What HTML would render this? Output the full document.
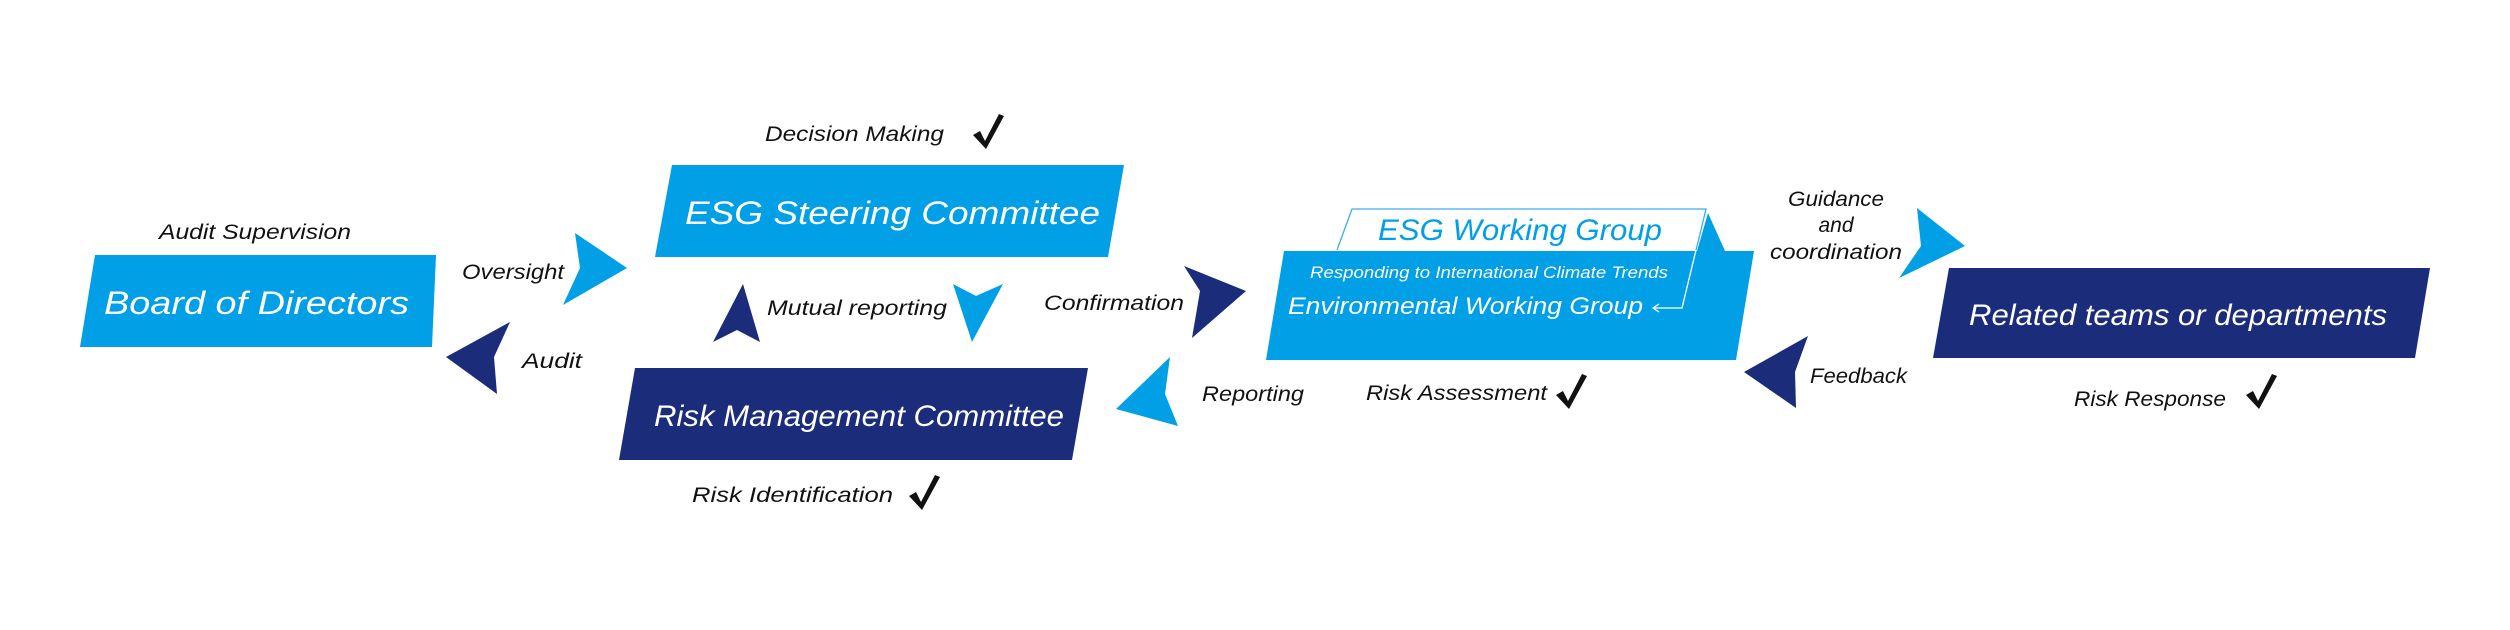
<!DOCTYPE html>
<html><head><meta charset="utf-8"><style>
html,body{margin:0;padding:0;background:#fff;}
svg{display:block;}
text{font-family:"Liberation Sans",sans-serif;font-style:italic;}
.l{font-size:21px;fill:#111;}
.b{font-size:32px;fill:#fff;}
</style></head><body>
<svg width="2510" height="630" viewBox="0 0 2510 630" xmlns="http://www.w3.org/2000/svg">
<defs>
<path id="ck" d="M0 13 L7 9 L12 19 L26 -8 L31 -6 L13 27 Z" fill="#111"/>
</defs>
<polygon points="95,255 436,255 432,347 80,347" fill="#009fe6"/>
<polygon points="672,165 1124,165 1108,257 655,257" fill="#009fe6"/>
<polygon points="635,368 1088,368 1072,460 619,460" fill="#1b2c7a"/>
<polygon points="1284,251 1754,251 1736,360 1266,360" fill="#009fe6"/>
<polygon points="1949,268 2430,268 2415,358 1933,358" fill="#1b2c7a"/>
<polygon points="1352,209 1706,209 1697,250 1337,250" fill="#fff"/>
<polyline points="1337,250 1352,209 1706,209 1682,308 1653,308" fill="none" stroke="#3aaef0" stroke-width="1.3"/>
<polyline points="1696,250 1682,308 1653,308" fill="none" stroke="#fff" stroke-width="1.3"/>
<polyline points="1659,304 1653,308 1659,312" fill="none" stroke="#fff" stroke-width="1.3"/>
<polygon points="1708,213 1725,251 1697,251" fill="#009fe6"/>
<polygon points="575,233 627,268 563,305 580,268" fill="#009fe6"/>
<polygon points="510,322 446,357 497,394 494,357" fill="#1b2c7a"/>
<polygon points="743,284 713,342 737,330 760,342" fill="#1b2c7a"/>
<polygon points="953,284 976,296 1003,284 972,342" fill="#009fe6"/>
<polygon points="1184,266 1246,291 1192,338 1200,291" fill="#1b2c7a"/>
<polygon points="1170,357 1116,409 1178,426 1165,394" fill="#009fe6"/>
<polygon points="1917,208 1965,246 1899,278 1921,246" fill="#009fe6"/>
<polygon points="1808,336 1744,372 1796,408 1795,372" fill="#1b2c7a"/>
<text class="b" x="104" y="314" textLength="305" lengthAdjust="spacingAndGlyphs">Board of Directors</text>
<text class="b" x="685" y="224" textLength="415" lengthAdjust="spacingAndGlyphs">ESG Steering Committee</text>
<text class="b" x="654" y="426" textLength="410" lengthAdjust="spacingAndGlyphs" style="font-size:30px">Risk Management Committee</text>
<text class="b" x="1969" y="325" textLength="418" lengthAdjust="spacingAndGlyphs" style="font-size:30px">Related teams or departments</text>
<text x="1378" y="240" textLength="284" lengthAdjust="spacingAndGlyphs" style="font-size:30px;fill:#009fe6">ESG Working Group</text>
<text x="1310" y="278" textLength="358" lengthAdjust="spacingAndGlyphs" style="font-size:17px;fill:#fff">Responding to International Climate Trends</text>
<text x="1288" y="314" textLength="355" lengthAdjust="spacingAndGlyphs" style="font-size:24px;fill:#fff">Environmental Working Group</text>
<text class="l" x="765" y="141" textLength="179" lengthAdjust="spacingAndGlyphs">Decision Making</text>
<text class="l" x="159" y="239" textLength="192" lengthAdjust="spacingAndGlyphs">Audit Supervision</text>
<text class="l" x="462" y="279" textLength="102" lengthAdjust="spacingAndGlyphs">Oversight</text>
<text class="l" x="522" y="368" textLength="60" lengthAdjust="spacingAndGlyphs">Audit</text>
<text class="l" x="767" y="315" textLength="180" lengthAdjust="spacingAndGlyphs">Mutual reporting</text>
<text class="l" x="1044" y="310" textLength="140" lengthAdjust="spacingAndGlyphs">Confirmation</text>
<text class="l" x="692" y="502" textLength="201" lengthAdjust="spacingAndGlyphs">Risk Identification</text>
<text class="l" x="1202" y="401" textLength="102" lengthAdjust="spacingAndGlyphs">Reporting</text>
<text class="l" x="1366" y="400" textLength="181" lengthAdjust="spacingAndGlyphs">Risk Assessment</text>
<text class="l" x="1836" y="206" text-anchor="middle" textLength="96" lengthAdjust="spacingAndGlyphs">Guidance</text>
<text class="l" x="1836" y="232" text-anchor="middle">and</text>
<text class="l" x="1836" y="259" text-anchor="middle" textLength="132" lengthAdjust="spacingAndGlyphs">coordination</text>
<text class="l" x="1810" y="383" textLength="97" lengthAdjust="spacingAndGlyphs">Feedback</text>
<text class="l" x="2074" y="406" textLength="152" lengthAdjust="spacingAndGlyphs">Risk Response</text>
<use href="#ck" x="973" y="122"/>
<use href="#ck" x="909" y="483"/>
<use href="#ck" x="1556" y="382"/>
<use href="#ck" x="2246" y="382"/>
</svg>
</body></html>
